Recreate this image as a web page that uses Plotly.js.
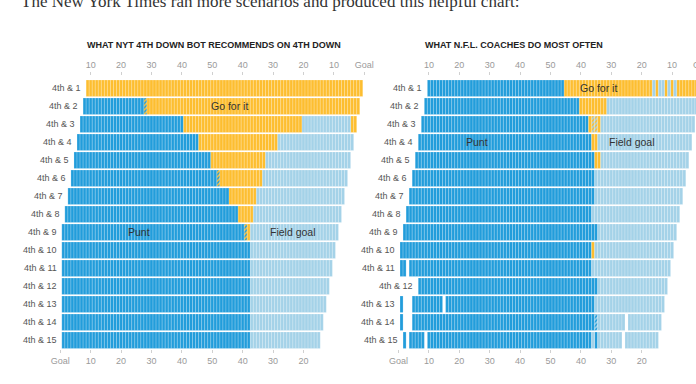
<!DOCTYPE html>
<html>
<head>
<meta charset="utf-8">
<script src="https://cdn.plot.ly/plotly-3.0.1.min.js"></script>
<style>
html,body{margin:0;padding:0;background:#fff;width:696px;height:384px;overflow:hidden;}
#chart{width:720px;height:384px;}
</style>
</head>
<body>
<div id="chart"></div>
<script>
// Row labels (downs & distance)
const rowLabels = ["4th & 1","4th & 2","4th & 3","4th & 4","4th & 5","4th & 6","4th & 7","4th & 8",
  "4th & 9","4th & 10","4th & 11","4th & 12","4th & 13","4th & 14","4th & 15"];

// Decision per yard line (yards from own goal), as runs: [code, fromYard, toYard]
// P = punt, G = go for it, F = field goal, two letters = split decision
const botRows = [
  [["G",9,99]],
  [["P",8,27],["PG",28,28],["G",29,98]],
  [["P",7,40],["G",41,79],["F",80,95],["G",96,97]],
  [["P",6,45],["G",46,71],["F",72,96]],
  [["P",5,49],["G",50,67],["F",68,95]],
  [["P",4,51],["PG",52,52],["G",53,66],["F",67,94]],
  [["P",3,55],["G",56,64],["F",65,93]],
  [["P",2,58],["G",59,63],["F",64,92]],
  [["P",1,60],["PG",61,61],["G",62,62],["F",63,91]],
  [["P",1,62],["F",63,90]],
  [["P",1,62],["F",63,89]],
  [["P",1,62],["F",63,88]],
  [["P",1,62],["F",63,87]],
  [["P",1,62],["F",63,86]],
  [["P",1,62],["F",63,85]]
];

const coachRows = [
  [["P",10,54],["G",55,83],["F",84,84],["G",85,85],["F",86,87],["G",88,88],["F",89,89],["G",90,90],["F",91,91],["G",92,99]],
  [["P",9,59],["G",60,68],["F",69,98]],
  [["P",8,62],["G",63,63],["GF",64,65],["G",66,66],["F",67,97]],
  [["P",7,63],["G",64,65],["F",66,96]],
  [["P",6,64],["G",65,66],["F",67,95]],
  [["P",5,64],["F",65,94]],
  [["P",4,64],["F",65,93]],
  [["P",3,63],["F",64,92]],
  [["P",2,65],["F",66,91]],
  [["P",1,63],["G",64,64],["F",65,90]],
  [["P",1,2],["P",4,63],["F",64,89]],
  [["P",7,65],["F",66,88]],
  [["P",1,1],["P",5,14],["P",16,64],["F",65,87]],
  [["P",1,1],["P",5,64],["PF",65,65],["F",66,74],["F",76,86]],
  [["P",2,2],["P",4,8],["P",10,63],["F",64,64],["P",65,65],["F",66,73],["F",75,85]]
];

// Axis ticks (field position)
const bottomTickVals = [0,10,20,30,40,50,60,70,80];
const bottomTickText = ["Goal","10","20","30","40","50","40","30","20"];
const topTickVals = [10,20,30,40,50,60,70,80,90,100];
const topTickText = ["10","20","30","40","50","40","30","20","10","Goal"];

const panelTitles = ["WHAT NYT 4TH DOWN BOT RECOMMENDS ON 4TH DOWN","WHAT N.F.L. COACHES DO MOST OFTEN"];
// region labels: [text, yard, row]
const botRegionLabels = [["Go for it",55.5,2],["Punt",25.8,9],["Field goal",76.4,9]];
const coachRegionLabels = [["Go for it",65.8,1],["Punt",25.9,4],["Field goal",76.9,4]];

const COLORS = {P:"#229ddb", G:"#fdbe30", F:"#a4d2e8"};
const W = 720, H = 384;
const FONT = "Liberation Sans, Arial, sans-serif";

// bottom axis carries punt & split cells, top axis (same scale) carries go & field goal cells
function buildTraces(rows, xaBottom, xaTop, ya){
  const cats = ["P","PG","GF","PF","G","F"];
  return cats.map(c => {
    const ys=[], bases=[], xs=[];
    rows.forEach((segs,i) => segs.forEach(([code,a,b]) => {
      if(code===c){ for(let yd=a; yd<=b; yd++){ ys.push(i+1); bases.push(yd-0.5); xs.push(1);} }
    }));
    const marker = {line:{color:"rgba(255,255,255,0.32)", width:0.6}};
    if(c.length===1){ marker.color = COLORS[c]; }
    else {
      marker.color = COLORS[c[0]];
      marker.pattern = {shape:"/", fgcolor:COLORS[c[1]], bgcolor:COLORS[c[0]], size:3, solidity:0.5, fillmode:"replace"};
    }
    const xa = (c==="G"||c==="F") ? xaTop : xaBottom;
    return {type:"bar", orientation:"h", x:xs, y:ys, base:bases, width:0.92,
      marker:marker, xaxis:xa, yaxis:ya, hoverinfo:"skip", showlegend:false};
  });
}

const traces = buildTraces(botRows,"x","x3","y").concat(buildTraces(coachRows,"x2","x4","y2"));

const yDom = [(H-349.3)/H, (H-79.3)/H];
const topPos = (H-75)/H;
const leftDom = [60.3/W, 364.3/W];
const rightDom = [398.5/W, 702.5/W];

function bottomAxis(dom, anchor){
  return {domain:dom, range:[0,100], anchor:anchor, tickvals:bottomTickVals, ticktext:bottomTickText,
    ticks:"outside", ticklen:3, tickcolor:"#d0d0d0", tickwidth:1,
    tickfont:{family:FONT,size:9,color:"#9a9a9a"}, showgrid:false, zeroline:false, showline:false, fixedrange:true};
}
function topAxis(over, dom){
  return {overlaying:over, domain:dom, side:"top", anchor:"free", position:topPos, range:[0,100],
    tickvals:topTickVals, ticktext:topTickText, ticks:"outside", ticklen:3, tickcolor:"#d0d0d0", tickwidth:1,
    tickfont:{family:FONT,size:9,color:"#9a9a9a"}, showgrid:false, zeroline:false, showline:false, fixedrange:true};
}
function yAxis(anchor){
  return {domain:yDom, range:[15.5,0.5], anchor:anchor, showticklabels:false, ticks:"",
    showgrid:false, zeroline:false, showline:false, fixedrange:true};
}

const annotations = [];
// headline (cut off at top)
annotations.push({text:"The New York Times ran more scenarios and produced this helpful chart:",
  xref:"paper", yref:"paper", x:19/W, y:1-13/H, xanchor:"left", yanchor:"bottom", showarrow:false,
  font:{family:"Liberation Serif, Georgia, serif", size:17, color:"#333"}});
// panel titles
[[panelTitles[0],85],[panelTitles[1],423.3]].forEach(([t,px]) => {
  annotations.push({text:"<b>"+t+"</b>", xref:"paper", yref:"paper", x:px/W, y:1-45/H,
    xanchor:"left", yanchor:"middle", showarrow:false, font:{family:FONT,size:9,color:"#222"}});
});
// row labels next to each row's first yard
[[botRows,"x","y"],[coachRows,"x2","y2"]].forEach(([rows,xa,ya]) => {
  rows.forEach((segs,i) => {
    const start = Math.min(...segs.map(s=>s[1]));
    annotations.push({text:rowLabels[i], xref:xa, yref:ya, x:start-0.5, y:i+1, xanchor:"right",
      yanchor:"middle", xshift:-3, showarrow:false, font:{family:FONT,size:9,color:"#555"}});
  });
});
// region labels
[[botRegionLabels,"x","y"],[coachRegionLabels,"x2","y2"]].forEach(([labs,xa,ya]) => {
  labs.forEach(([t,xv,r]) => {
    annotations.push({text:t, xref:xa, yref:ya, x:xv, y:r, xanchor:"center", yanchor:"middle",
      showarrow:false, font:{family:FONT,size:10.5,color:"#333"}});
  });
});

const layout = {
  width:W, height:H, margin:{l:0,r:0,t:0,b:0}, paper_bgcolor:"#fff", plot_bgcolor:"rgba(0,0,0,0)",
  barmode:"overlay", bargap:0, showlegend:false, hovermode:false,
  font:{family:FONT},
  xaxis:bottomAxis(leftDom,"y"), yaxis:yAxis("x"),
  xaxis2:bottomAxis(rightDom,"y2"), yaxis2:yAxis("x2"),
  xaxis3:topAxis("x",leftDom), xaxis4:topAxis("x2",rightDom),
  annotations:annotations
};

Plotly.newPlot("chart", traces, layout, {staticPlot:true, displayModeBar:false});
</script>
</body>
</html>
